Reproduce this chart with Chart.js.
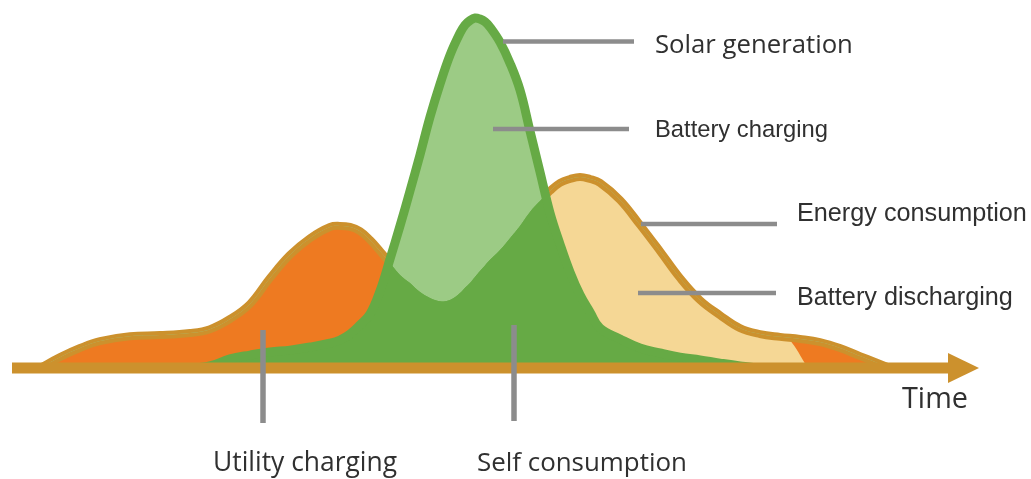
<!DOCTYPE html>
<html lang="en">
<head>
    <meta charset="UTF-8">
    <title>Solar, battery and utility energy flow</title>
    <script src="https://cdn.jsdelivr.net/npm/chart.js"></script>
    <style>
        body { margin: 0; background: #fff; }
        .wrap { width: 1031px; height: 479px; position: relative; }
    </style>
</head>
<body>
    <div class="wrap"><canvas id="flowChart"></canvas></div>

    <script>
        // time steps (arbitrary units along the day)
        const timeSteps = [4, 6, 8, 10, 13, 16, 19, 21, 23, 25, 27, 29, 31, 33, 34, 35, 36, 37, 38, 39, 40,
            41, 42, 43, 44, 45, 46, 46.5, 47, 47.5, 48, 48.5, 49, 50, 51, 52, 53, 54, 55, 56, 57, 58, 59, 60,
            62, 64, 66, 68, 70, 72, 74, 76, 78, 80, 82, 84, 86, 87.5, 89];
        // energy consumption (load), relative scale
        const consumption = [0, 3.1, 5.7, 7.7, 9.1, 9.4, 10.0, 11.1, 14.0, 18.3, 25.7, 32.3, 37.1, 40.3, 40.6, 40.3, 39.1, 36.6, 33.4, 30.0, 26.6,
            24.3, 21.7, 20.0, 19.1, 19.4, 21.4, 22.9, 24.3, 26.0, 27.7, 29.3, 30.9, 33.7, 37.1, 40.6, 44.6, 47.7, 50.6, 52.9, 54.0, 54.6, 54.0, 52.9,
            48.0, 40.9, 33.4, 25.7, 19.4, 15.1, 11.4, 9.7, 8.9, 8.3, 7.4, 5.7, 3.4, 1.7, 0];
        // solar generation
        const solar = [0, 0, 0, 0, 0, 0, 0, 0.6, 2.6, 3.7, 4.6, 5.1, 6.0, 7.1, 8.0, 9.7, 12.3, 15.4, 22.0, 31.1, 40.6,
            50.6, 60.9, 71.7, 81.1, 89.4, 95.7, 98.0, 99.3, 100, 99.7, 98.9, 97.4, 93.1, 87.1, 79.4, 67.7, 56.0, 44.3, 35.4, 27.4, 20.9, 16.0, 11.4,
            8.3, 5.7, 4.3, 3.1, 2.3, 1.4, 0.6, 0, 0, 0, 0, 0, 0, 0, 0];
        // battery discharging covers the load until the battery runs out
        const dischargeTime = [48, 50, 52, 54, 56, 58, 60, 62, 64, 66, 68, 70, 72, 74, 76, 78, 78.8, 80.8];
        const discharge = [27.7, 33.7, 40.6, 47.7, 52.9, 54.6, 52.9, 48.0, 40.9, 33.4, 25.7, 19.4, 15.1, 11.4, 9.7, 8.9, 8.6, 0];

        const names = ['Solar generation', 'Battery charging', 'Energy consumption', 'Battery discharging',
            'Utility charging', 'Self consumption', 'Time'];

        const GREEN = '#66AA45';
        const LIGHT_GREEN = '#9CCB85';
        const ORANGE = '#EE7A21';
        const YELLOW = '#F5D795';
        const BROWN = '#CC912D';
        const GREY = '#8C8C8C';
        const TEXT = '#303030';

        const pts = (xs, ys) => xs.map((x, i) => ({ x: x, y: ys[i] }));

        function fitText(ctx, text, x, baseline, width, family) {
            ctx.font = '100px ' + family;
            const size = 100 * width / ctx.measureText(text).width;
            ctx.font = size.toFixed(2) + 'px ' + family;
            ctx.fillText(text, x, baseline);
        }

        // axis arrow, leader lines and labels
        const decor = {
            id: 'decor',
            afterDatasetsDraw(chart) {
                const { ctx, scales: { x, y } } = chart;
                const y0 = y.getPixelForValue(0);
                ctx.save();
                ctx.strokeStyle = BROWN;
                ctx.fillStyle = BROWN;
                ctx.lineWidth = 11;
                ctx.beginPath();
                ctx.moveTo(x.getPixelForValue(1.2), y0);
                ctx.lineTo(x.getPixelForValue(95.5), y0);
                ctx.stroke();
                ctx.beginPath();
                ctx.moveTo(948, y0 - 15);
                ctx.lineTo(979, y0);
                ctx.lineTo(948, y0 + 15);
                ctx.closePath();
                ctx.fill();

                ctx.strokeStyle = GREY;
                ctx.lineWidth = 4.5;
                const hLines = [[503, 634, 41.5], [493, 629, 129], [641, 777, 224], [638, 776, 293]];
                hLines.forEach(([a, b, yy]) => {
                    ctx.beginPath(); ctx.moveTo(a, yy); ctx.lineTo(b, yy); ctx.stroke();
                });
                ctx.lineWidth = 5.5;
                const vLines = [[263, 330, 423], [514, 325, 421]];
                vLines.forEach(([xx, a, b]) => {
                    ctx.beginPath(); ctx.moveTo(xx, a); ctx.lineTo(xx, b); ctx.stroke();
                });

                ctx.fillStyle = TEXT;
                ctx.textBaseline = 'alphabetic';
                ctx.textAlign = 'left';
                const segoe = '"Open Sans", "Noto Sans", sans-serif';
                const arial = '"Liberation Sans", Arial, sans-serif';
                fitText(ctx, names[0], 655, 53, 198, segoe);
                fitText(ctx, names[1], 655, 137, 173, arial);
                fitText(ctx, names[2], 797, 221, 230, arial);
                fitText(ctx, names[3], 797, 305, 216, arial);
                fitText(ctx, names[4], 213, 471, 184, segoe);
                fitText(ctx, names[5], 477, 471, 210, segoe);
                fitText(ctx, names[6], 902, 408, 66, segoe);
                ctx.restore();
            }
        };

        const common = { pointRadius: 0, pointHoverRadius: 0, tension: 0.4, borderJoinStyle: 'round' };

        const ctx = document.getElementById('flowChart').getContext('2d');
        const flowChart = new Chart(ctx, {
            type: 'line',
            data: {
                datasets: [
                    {
                        ...common,
                        label: 'Battery charging',
                        data: pts(timeSteps, solar),
                        fill: { target: 2, above: LIGHT_GREEN, below: 'rgba(0,0,0,0)' },
                        borderColor: GREEN,
                        borderWidth: 9,
                        order: 1
                    },
                    {
                        ...common,
                        label: 'Self consumption',
                        data: pts(timeSteps, solar),
                        fill: 'origin',
                        backgroundColor: GREEN,
                        borderColor: 'transparent',
                        borderWidth: 0,
                        order: 2
                    },
                    {
                        ...common,
                        label: 'Energy consumption',
                        data: pts(timeSteps, consumption),
                        fill: false,
                        borderColor: BROWN,
                        borderWidth: 8,
                        order: 3
                    },
                    {
                        ...common,
                        label: 'Battery discharging',
                        data: pts(dischargeTime, discharge),
                        fill: 'origin',
                        backgroundColor: YELLOW,
                        borderColor: 'transparent',
                        borderWidth: 0,
                        order: 4
                    },
                    {
                        ...common,
                        label: 'Utility charging',
                        data: pts(timeSteps, consumption),
                        fill: 'origin',
                        backgroundColor: ORANGE,
                        borderColor: 'transparent',
                        borderWidth: 0,
                        order: 5
                    }
                ]
            },
            options: {
                responsive: true,
                maintainAspectRatio: false,
                animation: false,
                layout: { padding: 0 },
                plugins: {
                    legend: { display: false },
                    tooltip: { enabled: false }
                },
                scales: {
                    x: { type: 'linear', min: 0, max: 103.1, display: false },
                    y: { min: -31.71, max: 105.14, display: false }
                }
            },
            plugins: [decor]
        });
    </script>
</body>
</html>
